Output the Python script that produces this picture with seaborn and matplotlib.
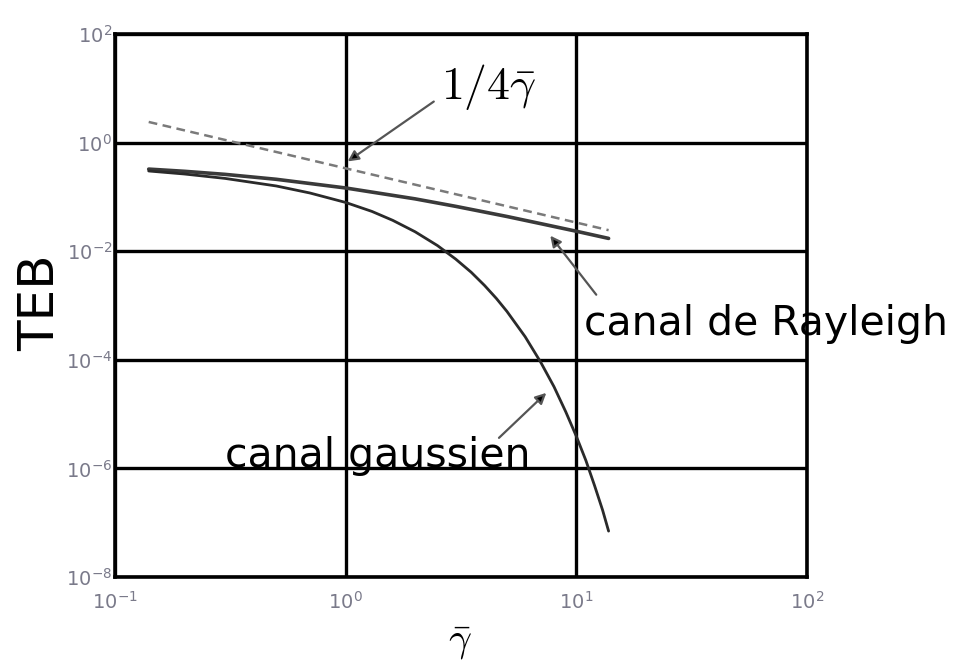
import matplotlib
matplotlib.use("Agg")
import matplotlib.pyplot as plt
import numpy as np
import pandas as pd
import seaborn as sns

# Mean SNR per bit (linear) and bit error rate (TEB) for each channel
gamma_gauss = [0.14, 0.2, 0.3, 0.5, 0.7, 1.0, 1.3, 1.6, 2.0, 2.5, 3.0, 3.5, 4.0, 4.5, 5.0,
               6.0, 7.0, 8.0, 9.0, 10.0, 11.0, 12.0, 13.0, 13.8]
teb_gauss = [0.30, 0.264, 0.219, 0.159, 0.118, 0.079, 0.054, 0.037, 0.0228, 0.0127, 0.00715,
             0.0041, 0.00234, 0.00135, 7.8e-4, 2.66e-4, 9.1e-5, 3.2e-5, 1.1e-5, 3.9e-6,
             1.4e-6, 4.8e-7, 1.7e-7, 7.0e-8]

gamma_rayl = [0.14, 0.2, 0.3, 0.5, 1.0, 2.0, 3.0, 5.0, 7.0, 10.0, 13.8]
teb_rayl = [0.325, 0.296, 0.260, 0.211, 0.146, 0.092, 0.067, 0.0436, 0.0322, 0.0233, 0.0172]

# High-SNR asymptote of the Rayleigh channel
gamma_asym = [0.14, 1.0, 13.8]
teb_asym = [2.4, 0.336, 0.0244]

x_ticks = [1e-1, 1e0, 1e1, 1e2]
y_ticks = [1e-8, 1e-6, 1e-4, 1e-2, 1e0, 1e2]

df_gauss = pd.DataFrame({"gamma": gamma_gauss, "teb": teb_gauss})
df_rayl = pd.DataFrame({"gamma": gamma_rayl, "teb": teb_rayl})
df_asym = pd.DataFrame({"gamma": gamma_asym, "teb": teb_asym})

sns.set_style("white")
plt.rcParams["font.family"] = ["DejaVu Sans"]
plt.rcParams["text.color"] = "black"

fig = plt.figure(figsize=(9.69, 6.62), dpi=100)
ax = fig.add_axes([115 / 969, 1 - 577 / 662, 692 / 969, 543 / 662])

sns.lineplot(data=df_asym, x="gamma", y="teb", ax=ax, color="#7a7a7a", lw=1.8,
             linestyle=(0, (3.5, 2.2)), sort=False)
sns.lineplot(data=df_rayl, x="gamma", y="teb", ax=ax, color="#3a3a3a", lw=2.6, sort=False)
sns.lineplot(data=df_gauss, x="gamma", y="teb", ax=ax, color="#2a2a2a", lw=2.0, sort=False)

ax.set_xscale("log")
ax.set_yscale("log")
ax.set_xlim(1e-1, 1e2)
ax.set_ylim(1e-8, 1e2)
ax.set_xticks(x_ticks)
ax.set_yticks(y_ticks)
ax.minorticks_off()
ax.tick_params(axis="both", which="both", length=0, labelsize=14, labelcolor="#7a7a8a")
ax.tick_params(axis="x", pad=10)
ax.tick_params(axis="y", pad=2)
ax.set_xlabel("")
ax.set_ylabel("")
ax.grid(True, which="major", color="black", lw=2.4)
for s in ax.spines.values():
    s.set_color("black")
    s.set_linewidth(2.6)

arrow_kw = dict(arrowstyle="-|>", ec="#555555", fc="black", lw=1.6, mutation_scale=16,
                shrinkA=0, shrinkB=0)

ax.annotate("", xy=(1.02, 0.45), xytext=(2.41, 5.7), arrowprops=arrow_kw)
ax.text(2.59, 6.47, r"$1/4\bar{\gamma}$", fontsize=33, math_fontfamily="cm",
        ha="left", va="baseline")

ax.annotate("", xy=(7.71, 0.0193), xytext=(12.2, 1.58e-3), arrowprops=arrow_kw)
ax.text(10.8, 2.89e-4, "canal de Rayleigh", fontsize=29.5, ha="left", va="baseline",
        clip_on=False)

ax.annotate("", xy=(7.41, 2.46e-5), xytext=(4.62, 3.65e-6), arrowprops=arrow_kw)
ax.text(0.30, 1.07e-6, "canal gaussien", fontsize=29.5, ha="left", va="baseline")

fig.text(40 / 969, 1 - 303 / 662, "TEB", fontsize=36, rotation=90, ha="center", va="center")
fig.text(460 / 969, 1 - 622 / 662, r"$\bar{\gamma}$", fontsize=29, math_fontfamily="cm",
         ha="center", va="top")

fig.savefig("out.png", dpi=100)
